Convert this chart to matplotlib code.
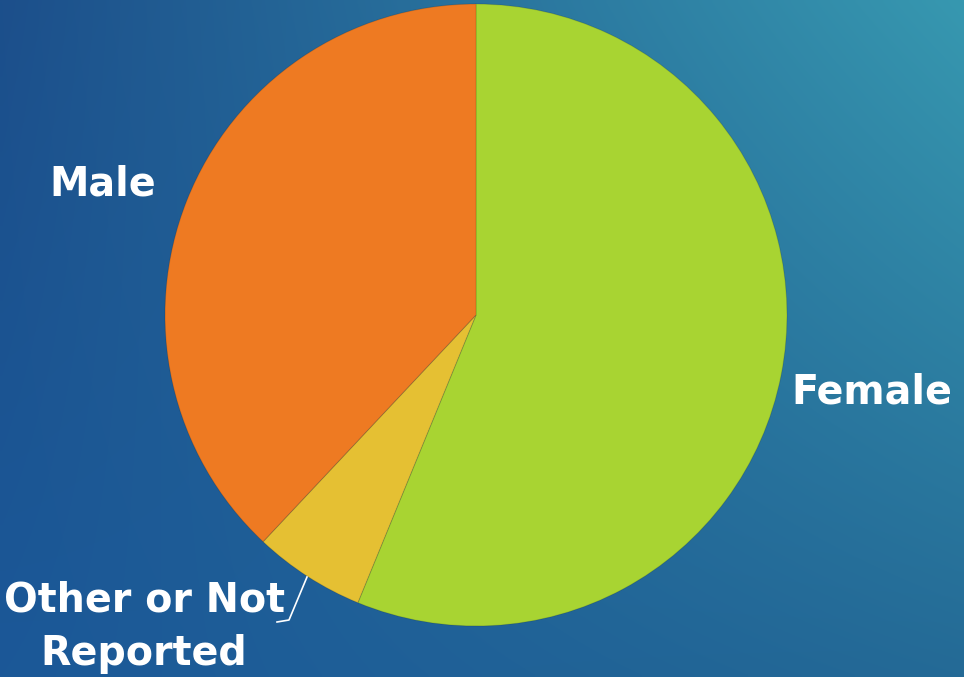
import matplotlib.pyplot as plt
import numpy as np

labels = ["Female", "Other or Not\nReported", "Male"]
shares = [56.2, 5.8, 38.0]
colors = ["#a8d432", "#e5c033", "#ee7a22"]

W, H = 964, 677
fig = plt.figure(figsize=(W / 100, H / 100), dpi=100)
ax = fig.add_axes([0, 0, 1, 1])

# background gradient, blended from the four corner colours
tl = np.array([28, 79, 139]) / 255
tr = np.array([55, 152, 176]) / 255
bl = np.array([27, 88, 152]) / 255
br = np.array([36, 106, 150]) / 255
u = np.linspace(0, 1, 200)[None, :, None]
v = np.linspace(0, 1, 150)[:, None, None]  # 0 = bottom
bg = (1 - v) * ((1 - u) * bl + u * br) + v * ((1 - u) * tl + u * tr)
ax.imshow(bg, extent=[0, W, 0, H], origin="lower", interpolation="bilinear",
          zorder=0, aspect="auto")

wedges, _ = ax.pie(shares, colors=colors, startangle=90, counterclock=False,
                   center=(476, H - 315), radius=311, frame=True,
                   wedgeprops=dict(edgecolor=(0, 0, 0, 0.12), linewidth=0.8))
for w in wedges:
    w.set_zorder(2)
ax.set_xlim(0, W)
ax.set_ylim(0, H)
ax.set_aspect("equal")
ax.axis("off")

font = dict(family=["DejaVu Sans"], fontweight="bold", color="white",
            fontsize=28.5, ha="center", va="center", zorder=3)
ax.text(872, H - 392, labels[0], **font)
ax.text(144, H - 627, labels[1], linespacing=1.42, **font)
ax.text(103, H - 185, labels[2], **font)

# leader line for the small slice
ax.plot([307, 289, 277], [H - 577, H - 620, H - 622], color="white",
        lw=1.2, zorder=3)

fig.savefig("out.png", dpi=100)
